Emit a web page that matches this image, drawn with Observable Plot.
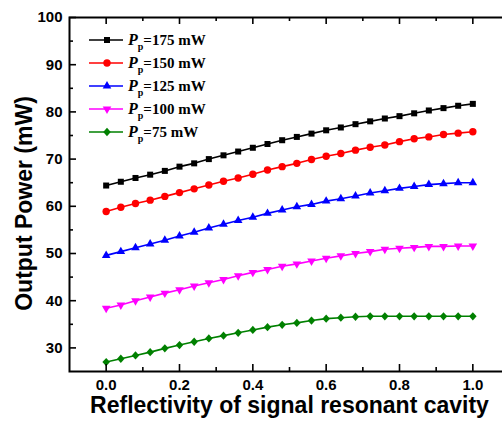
<!DOCTYPE html>
<html>
<head>
<meta charset="utf-8">
<script src="https://cdn.jsdelivr.net/npm/d3@7"></script>
<script src="https://cdn.jsdelivr.net/npm/@observablehq/plot@0.6"></script>
<style>
  html, body { margin: 0; padding: 0; background: #fff; overflow: hidden; }
  #chart { position: relative; width: 502px; height: 423px; overflow: hidden; }
  #chart svg { max-width: none !important; }
</style>
</head>
<body>
<div id="chart"></div>
<script>
// ---- data ----
const reflectivity = [0.00, 0.04, 0.08, 0.12, 0.16, 0.20, 0.24, 0.28, 0.32, 0.36, 0.40, 0.44, 0.48,
                      0.52, 0.56, 0.60, 0.64, 0.68, 0.72, 0.76, 0.80, 0.84, 0.88, 0.92, 0.96, 1.00];
const p175 = [64.4, 65.2, 66.0, 66.7, 67.5, 68.4, 69.1, 70.0, 70.8, 71.6, 72.4, 73.2, 74.0,
              74.7, 75.4, 76.1, 76.7, 77.4, 78.0, 78.6, 79.1, 79.7, 80.3, 80.8, 81.3, 81.7];
const p150 = [58.9, 59.8, 60.6, 61.3, 62.1, 62.9, 63.7, 64.5, 65.3, 66.0, 66.8, 67.7, 68.4,
              69.1, 69.9, 70.6, 71.2, 71.9, 72.5, 73.0, 73.7, 74.3, 74.7, 75.2, 75.5, 75.8];
const p125 = [49.6, 50.4, 51.2, 52.0, 52.8, 53.7, 54.5, 55.4, 56.2, 57.0, 57.7, 58.5, 59.2,
              59.9, 60.4, 61.1, 61.6, 62.2, 62.8, 63.3, 63.8, 64.2, 64.6, 64.8, 65.0, 65.0];
const p100 = [38.4, 39.1, 40.0, 40.8, 41.6, 42.3, 43.1, 43.8, 44.5, 45.3, 46.0, 46.6, 47.3,
              47.8, 48.4, 49.0, 49.5, 50.0, 50.4, 50.9, 51.1, 51.3, 51.5, 51.5, 51.6, 51.6];
const p75  = [27.0, 27.7, 28.4, 29.1, 29.9, 30.6, 31.3, 32.0, 32.6, 33.2, 33.8, 34.4, 34.9,
              35.3, 35.8, 36.2, 36.4, 36.6, 36.7, 36.7, 36.7, 36.7, 36.7, 36.7, 36.7, 36.7];
const seriesValues = [p175, p150, p125, p100, p75];
const pumpLabels = ["175", "150", "125", "100", "75"];
const seriesColors = ["#000000", "#ff0000", "#0000ff", "#ff00ff", "#008000"];

const xMajorTicks = [0.0, 0.2, 0.4, 0.6, 0.8, 1.0];
const xMinorTicks = [0.1, 0.3, 0.5, 0.7, 0.9];
const yMajorTicks = [30, 40, 50, 60, 70, 80, 90, 100];
const yMinorTicks = [35, 45, 55, 65, 75, 85, 95];
const xTitle = "Reflectivity of signal resonant cavity";
const yTitle = "Output Power (mW)";

// ---- symbols ----
const triangleDown = {
  draw(ctx, size) {
    const y = -Math.sqrt(size / (Math.sqrt(3) * 3));
    ctx.moveTo(0, -y * 2);
    ctx.lineTo(-Math.sqrt(3) * y, y);
    ctx.lineTo(Math.sqrt(3) * y, y);
    ctx.closePath();
  }
};
const diamondTall = {
  draw(ctx, size) {
    const w = Math.sqrt(size / 2.2), h = 1.1 * w;
    ctx.moveTo(0, -h);
    ctx.lineTo(w, 0);
    ctx.lineTo(0, h);
    ctx.lineTo(-w, 0);
    ctx.closePath();
  }
};
const seriesSymbols = [d3.symbolSquare, d3.symbolCircle, d3.symbolTriangle, triangleDown, diamondTall];
const seriesR = [3.4, 3.7, 3.2, 3.2, 3.15];

// ---- layout ----
const W = 510, H = 423, mL = 69, mR = 1, mT = 17, mB = 52;
const innerW = W - mL - mR, innerH = H - mT - mB;
const majorLen = 7, minorLen = 4;

const data = seriesValues.flatMap((vals, s) =>
  vals.map((v, i) => ({x: reflectivity[i], y: v, s})));

const marks = [];
seriesValues.forEach((vals, s) => {
  const d = data.filter(e => e.s === s);
  marks.push(Plot.line(d, {x: "x", y: "y", stroke: seriesColors[s], strokeWidth: 1.6}));
  marks.push(Plot.dot(d, {x: "x", y: "y", fill: seriesColors[s], stroke: "none",
    symbol: seriesSymbols[s], r: seriesR[s]}));
});

const tickStyle = {stroke: "#000", strokeWidth: 1.6};
marks.push(
  Plot.ruleX(xMajorTicks, {x: d => d, insetTop: innerH - majorLen, ...tickStyle}),
  Plot.ruleX(xMinorTicks, {x: d => d, insetTop: innerH - minorLen, ...tickStyle}),
  Plot.ruleX(xMajorTicks, {x: d => d, insetBottom: innerH - majorLen, ...tickStyle}),
  Plot.ruleX(xMinorTicks, {x: d => d, insetBottom: innerH - minorLen, ...tickStyle}),
  Plot.ruleY(yMajorTicks, {y: d => d, insetRight: innerW - majorLen, ...tickStyle}),
  Plot.ruleY(yMinorTicks, {y: d => d, insetRight: innerW - minorLen, ...tickStyle}),
  Plot.ruleY(yMajorTicks, {y: d => d, insetLeft: innerW - majorLen, ...tickStyle}),
  Plot.ruleY(yMinorTicks, {y: d => d, insetLeft: innerW - minorLen, ...tickStyle}),
  Plot.frame({stroke: "#000", strokeWidth: 2}),
  Plot.axisX({anchor: "bottom", ticks: xMajorTicks, tickSize: 0, tickPadding: 8,
    tickFormat: d3.format(".1f"), fontSize: 15, fontWeight: "bold", label: null}),
  Plot.axisY({anchor: "left", ticks: yMajorTicks, tickSize: 0, tickPadding: 7,
    fontSize: 15, fontWeight: "bold", label: null}),
  Plot.text([xTitle], {text: d => d, frameAnchor: "bottom", dy: 34,
    textAnchor: "middle", lineAnchor: "middle", fontSize: 23, fontWeight: "bold"}),
  Plot.text([yTitle], {text: d => d, frameAnchor: "left", dx: -45, dy: 9, rotate: -90,
    textAnchor: "middle", lineAnchor: "middle", fontSize: 23, fontWeight: "bold"})
);

const chart = Plot.plot({
  width: W, height: H,
  marginLeft: mL, marginRight: mR, marginTop: mT, marginBottom: mB,
  x: {domain: [-0.1, 1.1]},
  y: {domain: [25, 100]},
  style: {fontFamily: "'Liberation Sans', Arial, sans-serif", color: "#000", background: "#fff", overflow: "visible"},
  marks
});
chart.style.maxWidth = "none";

// ---- legend inside the plot area (top-left) ----
const svg = d3.select(chart);
const lg = svg.append("g").attr("class", "legend").attr("text-anchor", "start");
pumpLabels.forEach((lab, i) => {
  const cy = 40 + i * 23;
  const row = lg.append("g").attr("transform", `translate(0,${cy})`);
  row.append("line").attr("x1", 89).attr("x2", 123).attr("y1", 0).attr("y2", 0)
    .attr("stroke", seriesColors[i]).attr("stroke-width", 1.6);
  row.append("path")
    .attr("d", d3.symbol(seriesSymbols[i], Math.PI * seriesR[i] * seriesR[i])())
    .attr("transform", "translate(107,0)")
    .attr("fill", seriesColors[i]);
  const t = row.append("text").attr("x", 128).attr("y", 5)
    .attr("text-anchor", "start")
    .attr("font-family", "'Liberation Serif', 'Times New Roman', serif")
    .attr("font-weight", "bold").attr("font-size", 15).attr("fill", "#000");
  t.append("tspan").attr("font-style", "italic").attr("font-size", 16).text("P");
  t.append("tspan").attr("font-size", 10).attr("dy", 5).text("p");
  t.append("tspan").attr("dy", -5).text(`=${lab} mW`);
});

document.getElementById("chart").appendChild(chart);
</script>
</body>
</html>
